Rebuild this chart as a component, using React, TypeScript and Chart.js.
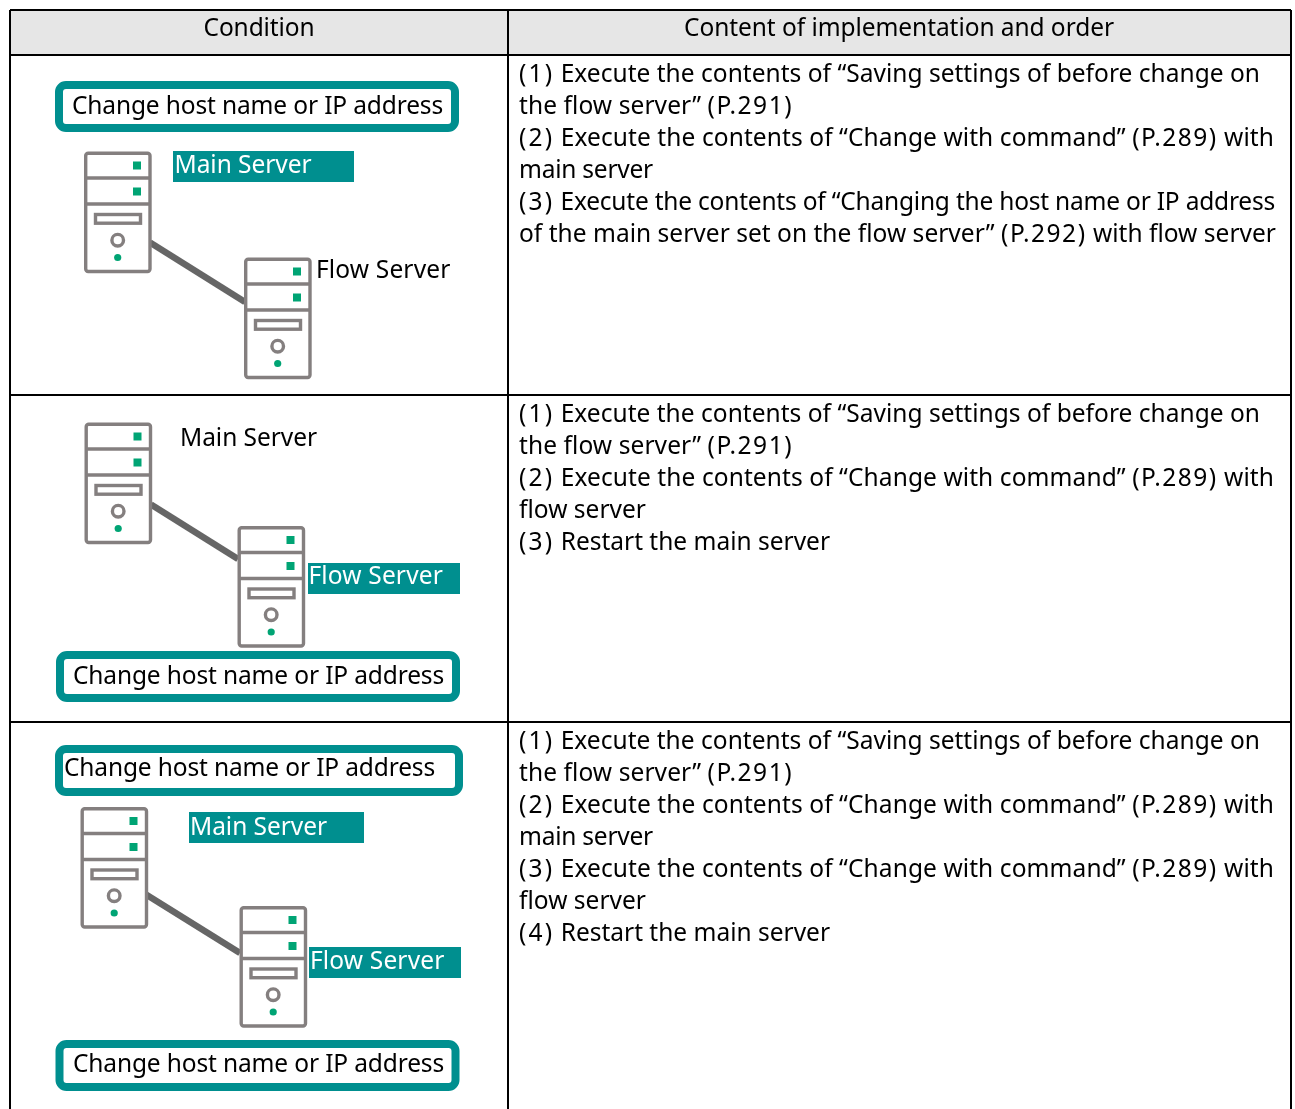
import React, { useEffect, useRef } from "react";
import { Chart, registerables } from "chart.js";

Chart.register(...registerables);

const WIDTH = 1295;
const HEIGHT = 1109;
const FONT = '"Noto Sans", sans-serif';
const FONT_SIZE = 24.5;

const TEAL = "#008f8f";
const GREEN = "#00a474";
const GREY = "#847f7f";
const LINK = "#666666";

const headers = ["Condition", "Content of implementation and order"];
const headerStarts = [203.5, 684];
const headerEnds = [314.5, 1114];

const rowOne = [
  "(1) Execute the contents of “Saving settings of before change on",
  "the flow server” (P.291)",
  "(2) Execute the contents of “Change with command” (P.289) with",
  "main server",
  "(3) Execute the contents of “Changing the host name or IP address",
  "of the main server set on the flow server” (P.292) with flow server",
];
const rowTwo = [
  "(1) Execute the contents of “Saving settings of before change on",
  "the flow server” (P.291)",
  "(2) Execute the contents of “Change with command” (P.289) with",
  "flow server",
  "(3) Restart the main server",
];
const rowThree = [
  "(1) Execute the contents of “Saving settings of before change on",
  "the flow server” (P.291)",
  "(2) Execute the contents of “Change with command” (P.289) with",
  "main server",
  "(3) Execute the contents of “Change with command” (P.289) with",
  "flow server",
  "(4) Restart the main server",
];
const rowOneEnds = [1260, 793, 1274, 653, 1275, 1276];
const rowTwoEnds = [1260, 793, 1274, 646, 830];
const rowThreeEnds = [1260, 793, 1274, 653, 1274, 646, 830];
const rowBlocks: [string[], number[], number][] = [
  [rowOne, rowOneEnds, 82],
  [rowTwo, rowTwoEnds, 422],
  [rowThree, rowThreeEnds, 749],
];

const gridLines = [
  [[10, 10], [1291, 10]],
  [[10, 55], [1291, 55]],
  [[10, 395], [1291, 395]],
  [[10, 722], [1291, 722]],
  [[10, 10], [10, 1109]],
  [[508, 10], [508, 1109]],
  [[1291, 10], [1291, 1109]],
];

const links = [
  [[150, 242.5], [245, 302]],
  [[151, 504.5], [238, 559]],
  [[146, 894.5], [240, 953]],
];

const serverOrigins = [
  [84, 151.5],
  [244, 257.5],
  [84.5, 422.5],
  [237.5, 526],
  [80.5, 807],
  [239.5, 906],
];

const pills = [
  [55, 81, 404, 51],
  [56, 651, 404, 51],
  [55, 745, 408, 51],
  [55.5, 1040, 404, 51],
];

const tealBoxes = [
  [173, 151, 181, 31],
  [308, 563, 152, 31],
  [189, 812, 175, 31],
  [309, 947, 152, 31],
];

const CHANGE = "Change host name or IP address";
const MAIN = "Main Server";
const FLOW = "Flow Server";
const labelWidths: Record<string, number> = { [CHANGE]: 371, [MAIN]: 137, [FLOW]: 134.5 };
// text, x, baseline, white?
const labels: [string, number, number, boolean][] = [
  [CHANGE, 72, 113.5, false],
  [MAIN, 174.5, 173, true],
  [FLOW, 316, 277.5, false],
  [MAIN, 180, 445.5, false],
  [FLOW, 308.5, 584, true],
  [CHANGE, 73, 683.5, false],
  [CHANGE, 64, 776, false],
  [MAIN, 190, 834.5, true],
  [FLOW, 310, 969, true],
  [CHANGE, 73, 1072, false],
];

const PREFIX_SPACING = 2.2;
const PAGE_SPACING = 1.5;

function drawFitted(ctx: any, line: string, x: number, y: number, end: number) {
  const runs = line.split(/(\(P\.\d+\)|\(\d\))/).filter((r) => r.length > 0);
  const wideSpacing = (r: string) => (/^\(\d\)$/.test(r) ? PREFIX_SPACING : /^\(P/.test(r) ? PAGE_SPACING : null);
  ctx.letterSpacing = "0px";
  let wideW = 0;
  let plainW = 0;
  let plainN = 0;
  runs.forEach((r) => {
    const w = ctx.measureText(r).width;
    const s = wideSpacing(r);
    if (s !== null) wideW += w + r.length * s;
    else {
      plainW += w;
      plainN += r.length;
    }
  });
  const spacing = plainN ? (end - x - wideW - plainW) / plainN : 0;
  let cx = x;
  runs.forEach((r) => {
    const s = wideSpacing(r);
    const sp = s !== null ? s : spacing;
    ctx.letterSpacing = `${sp}px`;
    ctx.fillText(r, cx, y);
    ctx.letterSpacing = "0px";
    cx += ctx.measureText(r).width + r.length * sp;
  });
}

const tablePlugin = {
  id: "tablePlugin",
  beforeDatasetsDraw(chart: any) {
    const { ctx, scales } = chart;
    const X = (v: number) => scales.x.getPixelForValue(v);
    const Y = (v: number) => scales.y.getPixelForValue(v);
    ctx.save();
    ctx.fillStyle = "#e6e6e6";
    ctx.fillRect(X(10), Y(10), X(1291) - X(10), Y(55) - Y(10));
    ctx.fillStyle = TEAL;
    tealBoxes.forEach(([x, y, w, h]) => ctx.fillRect(X(x), Y(y), w, h));
    ctx.restore();
  },
  afterDatasetsDraw(chart: any) {
    const { ctx, scales } = chart;
    const X = (v: number) => scales.x.getPixelForValue(v);
    const Y = (v: number) => scales.y.getPixelForValue(v);
    ctx.save();

    // pills
    ctx.strokeStyle = TEAL;
    ctx.lineWidth = 8;
    pills.forEach(([x, y, w, h]) => {
      ctx.beginPath();
      ctx.roundRect(X(x + 4), Y(y + 4), w - 8, h - 8, 7);
      ctx.stroke();
    });

    // servers
    serverOrigins.forEach(([ox, oy]) => {
      ctx.fillStyle = "#ffffff";
      ctx.strokeStyle = GREY;
      ctx.lineWidth = 3.4;
      ctx.beginPath();
      ctx.roundRect(X(ox + 1.7), Y(oy + 1.7), 64.3, 118.3, 2.5);
      ctx.fill();
      ctx.stroke();
      [26.5, 52.5].forEach((d) => {
        ctx.beginPath();
        ctx.moveTo(X(ox + 1.5), Y(oy + d));
        ctx.lineTo(X(ox + 66), Y(oy + d));
        ctx.stroke();
      });
      ctx.strokeRect(X(ox + 11.5), Y(oy + 63), 45, 8.7);
      ctx.beginPath();
      ctx.arc(X(ox + 33.7), Y(oy + 88.7), 5.8, 0, Math.PI * 2);
      ctx.stroke();
      ctx.fillStyle = GREEN;
      ctx.fillRect(X(ox + 49), Y(oy + 10), 8, 8);
      ctx.fillRect(X(ox + 49), Y(oy + 36), 8, 8);
      ctx.beginPath();
      ctx.arc(X(ox + 33.7), Y(oy + 106), 3.6, 0, Math.PI * 2);
      ctx.fill();
    });

    // text
    ctx.font = `${FONT_SIZE}px ${FONT}`;
    ctx.textBaseline = "alphabetic";
    ctx.textAlign = "left";
    ctx.fillStyle = "#000000";
    headers.forEach((h, i) => drawFitted(ctx, h, X(headerStarts[i]), Y(36), X(headerEnds[i])));
    labels.forEach(([t, x, y, white]) => {
      ctx.fillStyle = white ? "#ffffff" : "#000000";
      drawFitted(ctx, t, X(x), Y(y), X(x + labelWidths[t]));
    });
    ctx.fillStyle = "#000000";
    rowBlocks.forEach(([lines, ends, base]) => {
      lines.forEach((l, i) => drawFitted(ctx, l, X(519), Y(base + i * 32), X(ends[i])));
    });
    ctx.restore();
  },
};

const toPoints = (seg: number[][]) => seg.map(([x, y]) => ({ x, y }));

export default function App() {
  const ref = useRef<HTMLCanvasElement>(null);
  useEffect(() => {
    const chart = new Chart(ref.current!, {
      type: "scatter",
      data: {
        datasets: [
          ...links.map((s) => ({
            data: toPoints(s),
            showLine: true,
            borderColor: LINK,
            borderWidth: 6.5,
            pointRadius: 0,
          })),
          ...gridLines.map((s) => ({
            data: toPoints(s),
            showLine: true,
            borderColor: "#000000",
            borderWidth: 2,
            pointRadius: 0,
            clip: false,
          })),
        ],
      },
      options: {
        animation: false,
        responsive: false,
        layout: { padding: 0 },
        plugins: { legend: { display: false }, tooltip: { enabled: false }, title: { display: false } },
        scales: {
          x: { type: "linear", display: false, min: 0, max: WIDTH },
          y: { type: "linear", display: false, min: 0, max: HEIGHT, reverse: true },
        },
      },
      plugins: [tablePlugin],
    } as any);
    return () => chart.destroy();
  }, []);
  return (
    <div style={{ position: "absolute", left: 0, top: 0, width: WIDTH, height: HEIGHT, background: "#fff" }}>
      <canvas ref={ref} width={WIDTH} height={HEIGHT} style={{ display: "block" }} />
    </div>
  );
}
